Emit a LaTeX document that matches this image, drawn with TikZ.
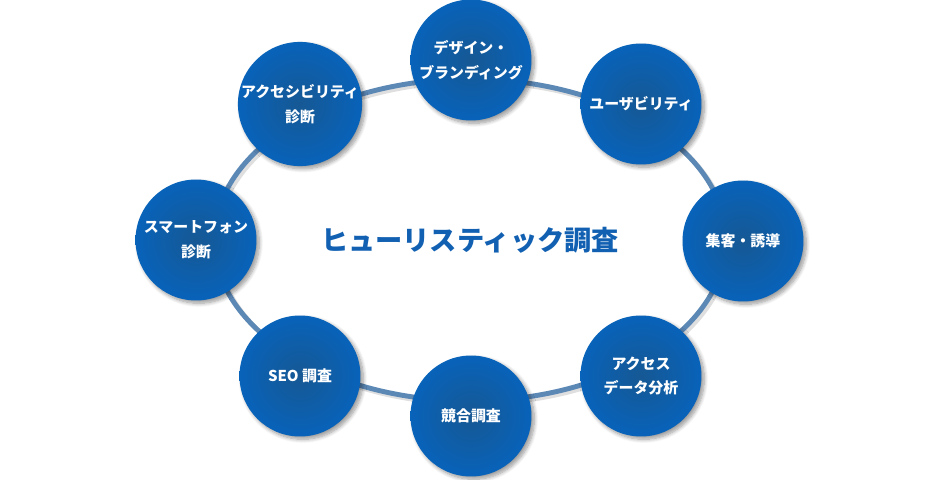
\documentclass[tikz,border=0pt]{standalone}
\usepackage{fontspec}
\setmainfont{Noto Sans CJK JP}
\usetikzlibrary{shadows.blur}
\definecolor{titlecolor}{RGB}{18,96,178}
\definecolor{ringcolor}{RGB}{92,136,182}
\definecolor{centerblue}{RGB}{22,88,148}
\definecolor{midblue}{RGB}{6,100,190}
\definecolor{rimblue}{RGB}{24,108,164}
\pgfdeclareradialshading{topicshade}{\pgfpoint{0bp}{0bp}}{%
    color(0bp)=(centerblue); color(28bp)=(midblue); color(46bp)=(rimblue); color(50bp)=(rimblue)}
\tikzset{
    topic/.style={
        circle,
        minimum size=2.42cm,
        inner sep=0pt,
        align=center,
        shading=topicshade,
        text=white,
        font=\fontsize{8.5}{14}\selectfont\bfseries,
        blur shadow={shadow xshift=1.6pt, shadow yshift=-1.6pt, shadow blur steps=8, shadow opacity=40}
    },
    hubtitle/.style={
        text=titlecolor,
        font=\fontsize{15.5}{18}\selectfont\bfseries
    },
    ringline/.style={draw=ringcolor, line width=2.8pt}
}
\begin{document}
\begin{tikzpicture}[x=0.02cm, y=-0.02cm]
    \useasboundingbox (0,0) rectangle (940,480);

    % Title
    \node[hubtitle] (hub) at (470,240) {ヒューリスティック調査};

    % Ring
    \draw[black!25, line width=2.8pt, opacity=0.5] ([xshift=1.5pt, yshift=-1.5pt]hub.center) ellipse [x radius=5.12cm, y radius=3.22cm];
    \draw[ringline] (hub.center) ellipse [x radius=5.12cm, y radius=3.22cm];

    % Topics
    \node[topic] (design) at (471,60) {デザイン・\\ブランディング};
    \node[topic] (usability) at (641,104) {ユーザビリティ};
    \node[topic] (traffic) at (743,241) {集客・誘導};
    \node[topic] (access) at (641,376) {アクセス\\データ分析};
    \node[topic] (rival) at (471,416) {競合調査};
    \node[topic] (seo) at (300,376) {SEO 調査};
    \node[topic] (phone) at (196,240) {スマートフォン\\診断};
    \node[topic] (a11y) at (300,104) {アクセシビリティ\\診断};
\end{tikzpicture}
\end{document}
